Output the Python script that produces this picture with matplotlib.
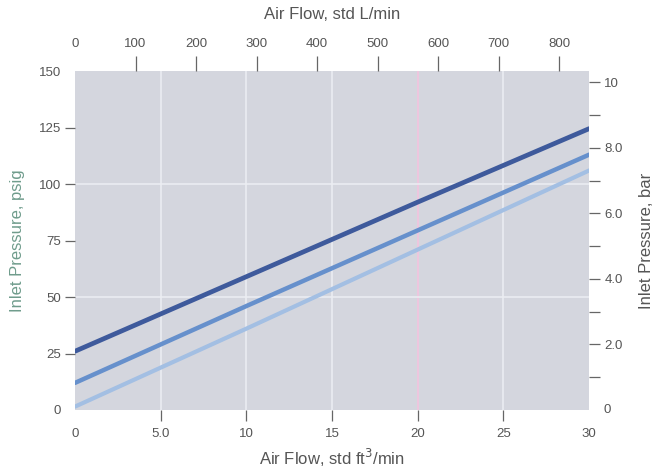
import matplotlib
matplotlib.use("Agg")
import matplotlib.pyplot as plt
from matplotlib.ticker import FixedLocator, FixedFormatter, NullFormatter

plt.rcParams['font.family'] = ['Liberation Sans', 'DejaVu Sans']

# Data
flow_scfm = [0, 10, 20, 30]
curve_high = [26, 59, 92, 124.5]
curve_mid = [12, 46, 79.5, 113]
curve_low = [1.5, 36, 71, 106]

x_ticks = [5, 10, 15, 20, 25]
x_ticklabels = ["5.0", "10", "15", "20", "25"]
x_end_ticks = [0, 30]
x_end_labels = ["0", "30"]
top_ticks = [100, 200, 300, 400, 500, 600, 700, 800]
top_end_ticks = [0]
y_ticks = [25, 50, 75, 100, 125]
y_end_ticks = [0, 150]
bar_ticks = [2, 4, 6, 8, 10]
bar_ticklabels = ["2.0", "4.0", "6.0", "8.0", "10"]
bar_minor = [1, 3, 5, 7, 9]

LPM_PER_SCFM = 28.3168
PSI_PER_BAR = 14.5038

fig = plt.figure(figsize=(6.55, 4.69), dpi=100)
ax = fig.add_axes([0.1145, 0.1258, 0.785, 0.7228])
ax.set_facecolor('#d4d6de')
for s in ax.spines.values():
    s.set_visible(False)

ax.set_xlim(0, 30)
ax.set_ylim(0, 150)

# grid
for gx in [5, 10, 15, 25]:
    ax.axvline(gx, color='#eceef3', lw=1.1, zorder=1)
ax.axvline(20, color='#eec6df', lw=1.4, zorder=1)
for gy in [50, 100]:
    ax.axhline(gy, color='#eceef3', lw=1.1, zorder=1)

ax.plot(flow_scfm, curve_low, color='#a3bfe3', lw=3.0, solid_capstyle='round', zorder=3)
ax.plot(flow_scfm, curve_mid, color='#6690cc', lw=3.2, solid_capstyle='round', zorder=3)
ax.plot(flow_scfm, curve_high, color='#3e5a9c', lw=3.4, solid_capstyle='round', zorder=3)

tick_color = '#555555'
tcol = '#666666'
fs = 9.5

# bottom axis
ax.xaxis.set_major_locator(FixedLocator(x_ticks))
ax.xaxis.set_major_formatter(FixedFormatter(x_ticklabels))
ax.xaxis.set_minor_locator(FixedLocator(x_end_ticks))
ax.xaxis.set_minor_formatter(FixedFormatter(x_end_labels))
ax.tick_params(axis='x', which='major', direction='out', length=8, width=0.9, color=tcol,
               labelcolor=tick_color, labelsize=fs, pad=5)
ax.tick_params(axis='x', which='minor', direction='out', length=8, width=0, color=tcol,
               labelcolor=tick_color, labelsize=fs, pad=5)

# left axis
ax.yaxis.set_major_locator(FixedLocator(y_ticks))
ax.yaxis.set_minor_locator(FixedLocator(y_end_ticks))
ax.yaxis.set_minor_formatter(FixedFormatter(["0", "150"]))
ax.tick_params(axis='y', which='major', direction='out', length=7, width=0.9, color=tcol,
               labelcolor=tick_color, labelsize=fs, pad=3)
ax.tick_params(axis='y', which='minor', direction='out', length=7, width=0, color=tcol,
               labelcolor=tick_color, labelsize=fs, pad=3)

ax.set_xlabel("Air Flow, std ft$^3$/min", fontsize=12, color='#555555', labelpad=5)
ax.set_ylabel("Inlet Pressure, psig", fontsize=12, color='#6f9c8c', labelpad=10)

# top axis (L/min)
top = ax.secondary_xaxis('top', functions=(lambda v: v * LPM_PER_SCFM, lambda v: v / LPM_PER_SCFM))
top.xaxis.set_major_locator(FixedLocator(top_ticks))
top.xaxis.set_minor_locator(FixedLocator(top_end_ticks))
top.xaxis.set_minor_formatter(FixedFormatter(["0"]))
top.tick_params(which='major', direction='out', length=11, width=0.9, color=tcol,
                labelcolor=tick_color, labelsize=fs, pad=4)
top.tick_params(which='minor', direction='out', length=11, width=0, color=tcol,
                labelcolor=tick_color, labelsize=fs, pad=4)
for s in top.spines.values():
    s.set_visible(False)
top.set_xlabel("Air Flow, std L/min", fontsize=12, color='#555555', labelpad=14)

# right axis (bar)
right = ax.secondary_yaxis('right', functions=(lambda v: v / PSI_PER_BAR, lambda v: v * PSI_PER_BAR))
right.yaxis.set_major_locator(FixedLocator(bar_ticks))
right.yaxis.set_major_formatter(FixedFormatter(bar_ticklabels))
right.yaxis.set_minor_locator(FixedLocator(bar_minor))
right.yaxis.set_minor_formatter(NullFormatter())
right.tick_params(which='both', direction='out', length=8, width=0.9, color=tcol,
                  labelcolor=tick_color, labelsize=fs, pad=3)
for s in right.spines.values():
    s.set_visible(False)
right.set_ylabel("Inlet Pressure, bar", fontsize=12, color='#555555', labelpad=12)
# unticked zero label on the bar axis
ax.text(1.0 + 14 / (0.785 * 655), 0, "0", transform=ax.get_yaxis_transform(),
        ha='left', va='center', fontsize=fs, color=tick_color)

fig.savefig("out.png", dpi=100)
